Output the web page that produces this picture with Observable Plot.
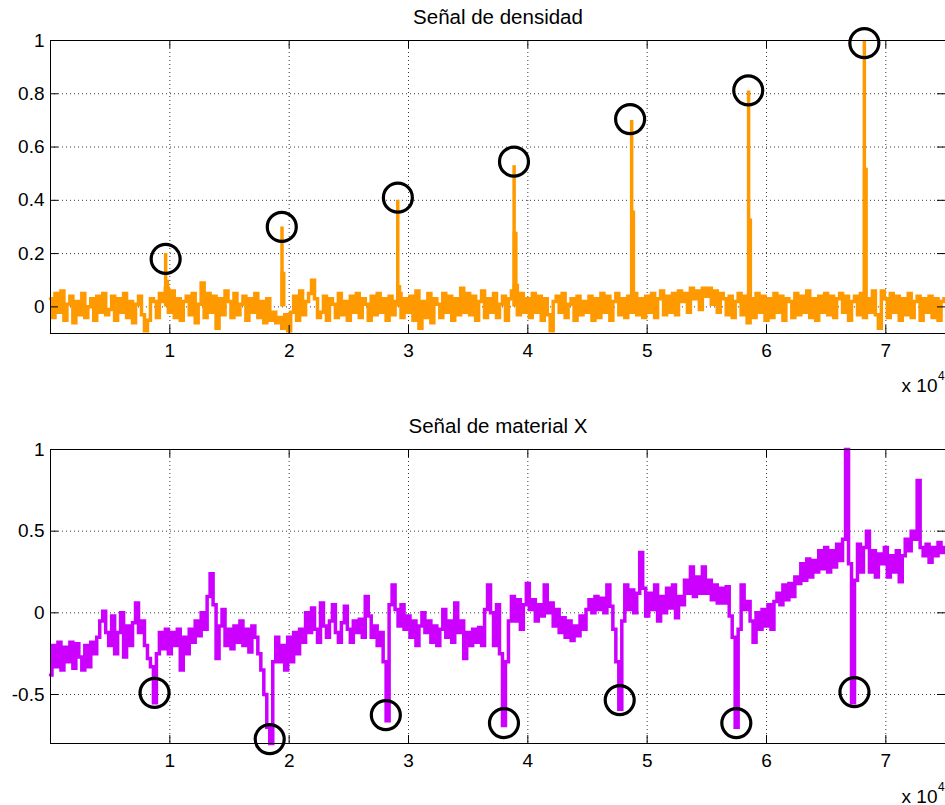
<!DOCTYPE html>
<html>
<head>
<meta charset="utf-8">
<script src="https://cdn.jsdelivr.net/npm/d3@7"></script>
<script src="https://cdn.jsdelivr.net/npm/@observablehq/plot@0.6"></script>
<style>
  html, body { margin: 0; padding: 0; background: #fff; }
  svg { display: block; }
</style>
</head>
<body>
<div id="chart"></div>
<script>
// ---------- data ----------
const sampleStep = 250; // sample spacing along x (one value every 250 samples)

const titleTop = "Señal de densidad";
const titleBottom = "Señal de material X";

const xTicks = [10000, 20000, 30000, 40000, 50000, 60000, 70000];
const xTickLabels = ["1", "2", "3", "4", "5", "6", "7"];
const xExponentBase = "x 10";
const xExponent = "4";

const yTicksTop = [0, 0.2, 0.4, 0.6, 0.8, 1];
const yTickLabelsTop = ["0", "0.2", "0.4", "0.6", "0.8", "1"];
const yTicksBottom = [-0.5, 0, 0.5, 1];
const yTickLabelsBottom = ["-0.5", "0", "0.5", "1"];

// density signal (noise floor), one value every 250 samples
const densityNoise = [
  0.03,-0.04,0.05,-0.02,0.06,-0.05,0.01,0.04,-0.06,0.02,-0.03,0.05,-0.04,0.00,0.03,-0.05,0.04,-0.02,0.05,-0.03,
  -0.01,0.04,-0.05,0.03,-0.02,0.05,-0.04,0.02,-0.06,0.01,0.04,-0.03,-0.09,-0.05,0.03,0.02,-0.04,0.05,0.02,0.07,
  -0.02,0.06,-0.04,0.03,-0.05,0.02,0.04,-0.03,0.05,-0.06,0.01,0.09,-0.04,0.05,-0.02,0.04,-0.08,0.03,-0.03,0.06,
  0.02,-0.04,0.05,-0.03,0.01,0.04,-0.05,0.03,-0.02,0.05,-0.04,0.02,-0.06,0.03,-0.05,-0.02,-0.06,-0.04,-0.08,-0.03,
  -0.09,-0.02,0.04,-0.05,0.06,-0.03,0.02,0.05,0.10,0.03,-0.04,-0.02,0.04,-0.05,0.03,0.01,-0.04,0.05,-0.03,0.02,
  -0.05,0.04,-0.02,0.05,-0.04,0.03,0.01,-0.05,0.04,-0.03,0.05,-0.02,0.03,-0.05,0.04,-0.03,0.02,0.05,-0.04,0.03,
  -0.02,0.04,-0.05,0.06,-0.08,0.02,-0.04,0.05,-0.06,0.03,0.01,-0.04,0.05,-0.02,0.04,-0.05,0.03,-0.03,0.07,-0.02,
  0.05,-0.03,0.04,-0.05,0.02,0.06,-0.04,0.03,-0.02,0.05,-0.04,0.01,0.04,-0.05,0.03,0.06,0.08,-0.03,0.05,-0.02,
  0.03,-0.04,0.05,-0.02,0.04,-0.05,0.03,-0.03,-0.09,0.02,0.04,-0.02,0.05,-0.04,0.01,0.03,-0.05,0.04,-0.03,0.02,
  -0.02,0.04,-0.05,0.03,-0.04,0.05,-0.02,0.04,-0.05,0.02,0.05,-0.03,0.03,-0.04,0.04,-0.02,0.05,-0.03,0.03,-0.04,
  0.04,-0.02,0.05,-0.04,0.03,0.06,-0.03,0.04,-0.02,0.05,-0.03,0.06,0.02,0.05,-0.02,0.07,0.03,0.06,-0.01,0.07,
  0.04,0.07,0.01,0.06,-0.02,0.05,0.03,-0.03,0.04,-0.04,0.02,0.05,-0.03,0.04,-0.06,0.03,-0.04,0.05,-0.02,0.04,
  -0.05,0.03,-0.04,0.05,-0.02,0.04,-0.05,0.03,0.02,-0.04,0.05,-0.03,0.04,-0.02,0.06,-0.04,0.03,-0.05,0.04,-0.02,
  0.05,-0.03,0.04,-0.04,0.03,0.05,-0.02,0.04,-0.05,0.02,0.04,-0.03,0.05,-0.04,0.03,-0.02,0.06,-0.03,-0.08,0.06,
  0.03,-0.04,0.05,-0.02,0.04,-0.05,0.03,-0.03,0.05,-0.04,0.02,0.04,-0.05,0.03,-0.02,0.04,-0.04,0.03,-0.05,0.02,
  0.03
];

// density peaks
const densityPeakX = [9650, 19400, 29100, 38850, 48700, 58500, 68200];
const densityPeakY = [0.20, 0.30, 0.40, 0.53, 0.70, 0.81, 1.00];
const densityShoulderY = [0.10, 0.13, 0.08, 0.28, 0.36, 0.33, 0.52];

// circled points, density panel
const densityCircleX = [9650, 19380, 29110, 38840, 48570, 58470, 68200];
const densityCircleY = [0.18, 0.30, 0.41, 0.545, 0.705, 0.813, 0.99];

// material X signal, one value every 250 samples
const materialSignal = [
  -0.38,-0.20,-0.33,-0.18,-0.35,-0.21,-0.30,-0.18,-0.34,-0.19,-0.27,-0.35,-0.20,-0.33,-0.18,-0.25,-0.15,-0.05,0.01,-0.12,
  -0.20,-0.02,-0.25,-0.12,0.00,-0.27,-0.08,-0.20,-0.06,0.06,-0.12,-0.05,-0.20,-0.28,-0.33,-0.55,-0.25,-0.12,-0.22,-0.10,
  -0.25,-0.12,-0.20,-0.10,-0.35,-0.15,-0.25,-0.10,-0.18,-0.05,-0.14,0.00,-0.10,0.10,0.24,0.05,-0.28,-0.08,0.02,-0.20,
  -0.10,-0.22,-0.08,-0.18,-0.05,-0.20,-0.10,-0.24,-0.08,-0.15,-0.25,-0.35,-0.50,-0.70,-0.80,-0.30,-0.15,-0.30,-0.20,-0.35,
  -0.15,-0.30,-0.12,-0.25,-0.10,-0.18,0.00,-0.12,0.03,-0.10,-0.18,0.06,-0.08,-0.15,-0.05,0.05,-0.12,-0.18,-0.06,0.04,
  -0.10,-0.18,-0.05,-0.12,-0.04,-0.15,0.10,-0.02,-0.15,-0.08,-0.20,-0.12,-0.30,-0.66,0.05,0.17,0.02,-0.08,0.05,-0.10,
  -0.02,-0.15,-0.05,-0.20,-0.08,0.00,-0.12,-0.05,-0.18,-0.08,-0.20,-0.10,0.02,-0.15,-0.05,-0.18,0.06,-0.12,-0.05,-0.28,
  -0.12,-0.20,-0.10,-0.18,-0.09,-0.20,0.02,0.17,0.00,-0.20,0.05,-0.25,-0.69,-0.30,-0.05,0.10,-0.05,0.08,-0.10,0.05,
  0.18,0.02,0.08,-0.05,0.05,-0.02,0.17,0.00,0.06,-0.08,0.02,-0.12,-0.03,-0.15,-0.05,-0.17,-0.08,-0.14,-0.02,-0.10,
  0.02,0.08,0.00,0.10,0.02,0.09,0.00,0.17,0.04,-0.10,-0.30,-0.59,-0.05,0.17,0.02,0.14,0.00,0.12,0.37,0.15,
  -0.02,0.12,0.02,0.17,-0.05,0.10,0.00,0.15,0.03,0.17,-0.03,0.10,0.05,0.20,0.12,0.28,0.10,0.22,0.12,0.28,
  0.12,0.20,0.08,0.17,0.06,0.15,0.06,0.16,-0.02,-0.15,-0.70,-0.10,0.17,0.02,0.07,-0.05,-0.18,0.00,-0.10,0.02,
  -0.08,0.05,-0.10,0.07,0.12,0.05,0.17,0.08,0.18,0.10,0.22,0.18,0.30,0.20,0.33,0.22,0.32,0.25,0.38,0.27,
  0.40,0.25,0.38,0.28,0.42,0.32,0.45,1.00,0.30,-0.55,0.20,0.42,0.25,0.40,0.50,0.25,0.38,0.22,0.36,0.30,
  0.40,0.22,0.35,0.25,0.38,0.19,0.35,0.45,0.38,0.50,0.45,0.81,0.40,0.35,0.42,0.31,0.40,0.35,0.43,0.37,
  0.40
];

// circled points, material X panel
const materialCircleX = [8720, 18370, 28100, 38000, 47700, 57470, 67370];
const materialCircleY = [-0.49, -0.773, -0.626, -0.675, -0.534, -0.675, -0.485];

// ---------- build tables ----------
const densityData = densityNoise.map((v, i) => ({x: i * sampleStep, y: v}));
const materialData = materialSignal.map((v, i) => ({x: i * sampleStep, y: v}));
const densityPeaks = densityPeakX.map((x, i) => ({x, peak: densityPeakY[i], shoulder: densityShoulderY[i]}));
const densityCircles = densityCircleX.map((x, i) => ({x, y: densityCircleY[i]}));
const materialCircles = materialCircleX.map((x, i) => ({x, y: materialCircleY[i]}));

const W = 945;
const font = "'Liberation Sans', Arial, Helvetica, sans-serif";
const gridStyle = {stroke: "#3a3a3a", strokeOpacity: 1, strokeWidth: 1, strokeDasharray: "1,3"};

function panel({height, marginTop, marginBottom, yDomain, yTicks, yTickLabels, title, lineData, color, lineWidth, circles, extra, expDy}) {
  const marginLeft = 50, marginRight = 0;
  const fw = W - marginLeft - marginRight;
  const fh = height - marginTop - marginBottom;
  const tickLen = 8;
  return Plot.plot({
    width: W,
    height,
    marginLeft, marginRight, marginTop, marginBottom,
    style: {fontFamily: font, fontSize: "19px", color: "#000", background: "#fff", overflow: "visible"},
    x: {domain: [0, 75000], axis: null},
    y: {domain: yDomain, axis: null},
    marks: [
      Plot.gridX(xTicks, gridStyle),
      Plot.gridY(yTicks.filter(d => d !== yDomain[1]), gridStyle),
      Plot.line(lineData, {x: "x", y: "y", stroke: color, strokeWidth: lineWidth, curve: "step", strokeLinejoin: "miter", strokeMiterlimit: 2}),
      ...(extra || []),
      Plot.dot(circles, {x: "x", y: "y", r: 14.5, stroke: "#000", strokeWidth: 3.2, fill: "none"}),
      Plot.frame({stroke: "#000", strokeWidth: 1}),
      // inward tick marks (MATLAB style)
      Plot.ruleX(xTicks, {x: d => d, insetTop: fh - tickLen, stroke: "#000"}),
      Plot.ruleX(xTicks, {x: d => d, insetBottom: fh - tickLen, stroke: "#000"}),
      Plot.ruleY(yTicks, {y: d => d, insetRight: fw - tickLen, stroke: "#000"}),
      Plot.ruleY(yTicks, {y: d => d, insetLeft: fw - tickLen, stroke: "#000"}),
      Plot.axisX(xTicks, {anchor: "bottom", tickSize: 0, tickPadding: 10, label: null,
        tickFormat: d => xTickLabels[xTicks.indexOf(d)], fontSize: 19}),
      Plot.axisY(yTicks, {anchor: "left", tickSize: 0, tickPadding: 6, label: null,
        tickFormat: d => yTickLabels[yTicks.indexOf(d)], fontSize: 19}),
      Plot.text([title], {frameAnchor: "top", lineAnchor: "middle", dy: -23, fontSize: 20.5, fill: "#000"}),
      Plot.text([xExponentBase], {frameAnchor: "bottom-right", textAnchor: "end", lineAnchor: "middle", dx: -8, dy: expDy, fontSize: 19, fill: "#000"}),
      Plot.text([xExponent], {frameAnchor: "bottom-right", textAnchor: "start", lineAnchor: "middle", dx: -7.5, dy: expDy - 9, fontSize: 12, fill: "#000"})
    ]
  });
}

const densityChart = panel({
  height: 400, marginTop: 40, marginBottom: 67,
  yDomain: [-0.1, 1], yTicks: yTicksTop, yTickLabels: yTickLabelsTop,
  title: titleTop, lineData: densityData, color: "#FF9900", lineWidth: 3.5,
  circles: densityCircles, expDy: 52,
  extra: [
    Plot.ruleX(densityPeaks, {x: "x", y1: 0, y2: "shoulder", stroke: "#FF9900", strokeWidth: 5, dx: 1}),
    Plot.ruleX(densityPeaks, {x: "x", y1: 0, y2: "peak", stroke: "#FF9900", strokeWidth: 3.5})
  ]
});

const materialChart = panel({
  height: 405, marginTop: 49, marginBottom: 62,
  yDomain: [-0.8, 1], yTicks: yTicksBottom, yTickLabels: yTickLabelsBottom,
  title: titleBottom, lineData: materialData, color: "#CC00FF", lineWidth: 3.5,
  circles: materialCircles, expDy: 53
});

const root = document.getElementById("chart");
root.appendChild(densityChart);
root.appendChild(materialChart);
</script>
</body>
</html>
